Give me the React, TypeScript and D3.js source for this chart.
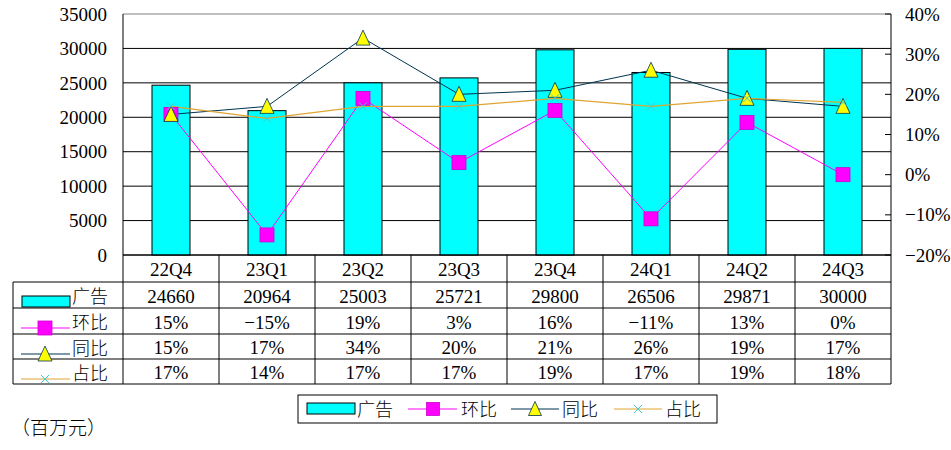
import React from "react";
import * as d3 from "d3";

const categories = ["22Q4", "23Q1", "23Q2", "23Q3", "23Q4", "24Q1", "24Q2", "24Q3"];
const adRevenue = [24660, 20964, 25003, 25721, 29800, 26506, 29871, 30000];
const qoq = [15, -15, 19, 3, 16, -11, 13, 0];
const yoy = [15, 17, 34, 20, 21, 26, 19, 17];
const share = [17, 14, 17, 17, 19, 17, 19, 18];
const leftTicks = [0, 5000, 10000, 15000, 20000, 25000, 30000, 35000];
const rightTicks = [-20, -10, 0, 10, 20, 30, 40];
const seriesNames = ["广告", "环比", "同比", "占比"];
const unitLabel = "（百万元）";

const W = 951, H = 450;
const L = 123, R = 891, T = 14, B = 255;
const FONT = "Liberation Serif, Tinos, Times New Roman, DejaVu Serif, Noto Sans CJK SC, serif";
const CJK = "Noto Sans CJK SC, sans-serif";
const NUM_FS = 19;
const CYAN = "#00FFFF";
const MAG = "#FF00FF";
const NAVY = "#003350";
const ORANGE = "#E0A430";
const XCOL = "#40CCCC";

const fmtPct = (v: number) => (v < 0 ? "−" + Math.abs(v) : String(v)) + "%";

function Square({ x, y, s = 14 }: { x: number; y: number; s?: number }) {
  return <rect x={x - s / 2} y={y - s / 2} width={s} height={s} fill={MAG} stroke="#CC00CC" strokeWidth={0.8} />;
}
function Tri({ x, y, s = 14 }: { x: number; y: number; s?: number }) {
  const h = s;
  return (
    <path
      d={`M${x},${y - h / 2 - 1} L${x + s / 2},${y + h / 2} L${x - s / 2},${y + h / 2} Z`}
      fill="#FFFF00"
      stroke={NAVY}
      strokeWidth={0.8}
    />
  );
}
function Cross({ x, y, s = 8 }: { x: number; y: number; s?: number }) {
  return (
    <g stroke={XCOL} strokeWidth={1}>
      <line x1={x - s / 2} y1={y - s / 2} x2={x + s / 2} y2={y + s / 2} />
      <line x1={x - s / 2} y1={y + s / 2} x2={x + s / 2} y2={y - s / 2} />
    </g>
  );
}

export default function App() {
  const x = d3.scaleBand<string>().domain(categories).range([L, R]).padding(0);
  const cx = (c: string) => (x(c) as number) + x.bandwidth() / 2;
  const yL = d3.scaleLinear().domain([0, 35000]).range([B, T]);
  const yR = d3.scaleLinear().domain([-20, 40]).range([B, T]);
  const barW = 38;

  const lineR = d3
    .line<number>()
    .x((_, i) => cx(categories[i]))
    .y((d) => yR(d));

  const rowLines = [282, 308, 334, 359, 384];
  const rowTexts = [
    adRevenue.map((v) => String(v)),
    qoq.map(fmtPct),
    yoy.map(fmtPct),
    share.map(fmtPct),
  ];
  const cjkText = { fontSize: 18, fontFamily: CJK, fontWeight: 300 } as const;

  return (
    <svg width={W} height={H} style={{ position: "absolute", left: 0, top: 0, background: "#fff", fontFamily: FONT }}>
      <rect x={0} y={0} width={W} height={H} fill="#fff" />
      {leftTicks.map((t) => (
        <line key={t} x1={L} x2={R} y1={yL(t)} y2={yL(t)} stroke={t === 35000 ? "#808080" : "#000"} strokeWidth={1} />
      ))}
      {adRevenue.map((v, i) => (
        <rect
          key={i}
          x={cx(categories[i]) - barW / 2}
          y={yL(v)}
          width={barW}
          height={B - yL(v)}
          fill={CYAN}
          stroke="#000"
          strokeWidth={1}
        />
      ))}
      <line x1={L} x2={L} y1={T} y2={B} stroke="#000" />
      <line x1={R} x2={R} y1={T} y2={B} stroke="#000" />
      <line x1={L} x2={R} y1={B} y2={B} stroke="#000" />
      {leftTicks.map((t) => (
        <text key={t} x={107} y={yL(t)} dy="0.35em" textAnchor="end" fontSize={NUM_FS} fill="#000">
          {t}
        </text>
      ))}
      {rightTicks.map((t) => (
        <g key={t}>
          <line x1={R - 6} x2={R} y1={yR(t)} y2={yR(t)} stroke="#000" />
          <text x={905} y={yR(t)} dy="0.35em" textAnchor="start" fontSize={NUM_FS} fill="#000">
            {fmtPct(t)}
          </text>
        </g>
      ))}
      <path d={lineR(qoq) || ""} fill="none" stroke={MAG} strokeWidth={1} />
      <path d={lineR(yoy) || ""} fill="none" stroke={NAVY} strokeWidth={1} />
      <path d={lineR(share) || ""} fill="none" stroke={ORANGE} strokeWidth={1.2} />
      {qoq.map((v, i) => (
        <Square key={"q" + i} x={cx(categories[i])} y={yR(v)} />
      ))}
      {yoy.map((v, i) => (
        <Tri key={"y" + i} x={cx(categories[i])} y={yR(v)} />
      ))}
      {share.map((v, i) => (
        <Cross key={"s" + i} x={cx(categories[i])} y={yR(v)} />
      ))}

      {categories.map((c) => (
        <g key={c}>
          <line x1={x(c) as number} x2={x(c) as number} y1={B} y2={384} stroke="#000" />
          <text x={cx(c)} y={269} dy="0.35em" textAnchor="middle" fontSize={NUM_FS} fill="#000">
            {c}
          </text>
        </g>
      ))}
      <line x1={R} x2={R} y1={B} y2={384} stroke="#000" />
      <line x1={13} x2={13} y1={282} y2={384} stroke="#000" />
      {rowLines.map((y) => (
        <line key={y} x1={13} x2={R} y1={y} y2={y} stroke="#000" />
      ))}
      {rowTexts.map((row, r) =>
        row.map((t, i) => (
          <text
            key={r + "-" + i}
            x={cx(categories[i])}
            y={(rowLines[r] + rowLines[r + 1]) / 2 + 1}
            dy="0.35em"
            textAnchor="middle"
            fontSize={NUM_FS}
            fill="#000"
          >
            {t}
          </text>
        ))
      )}
      <rect x={22} y={296} width={48} height={11} fill={CYAN} stroke="#000" strokeWidth={1} />
      <line x1={21} x2={70} y1={328} y2={328} stroke={MAG} />
      <Square x={45} y={328} />
      <line x1={21} x2={70} y1={354} y2={354} stroke={NAVY} />
      <Tri x={45} y={354} />
      <line x1={21} x2={70} y1={379} y2={379} stroke={ORANGE} />
      <Cross x={45} y={379} />
      {seriesNames.map((n, r) => (
        <text key={n} x={72} y={(rowLines[r] + rowLines[r + 1]) / 2 + 2} dy="0.35em" {...cjkText} fill="#000">
          {n}
        </text>
      ))}

      <rect x={298} y={395} width={419} height={28} fill="#fff" stroke="#000" strokeWidth={1} />
      <rect x={307} y={403} width={48} height={11} fill={CYAN} stroke="#000" />
      <text x={357} y={410} dy="0.35em" {...cjkText} fill="#000">{seriesNames[0]}</text>
      <line x1={408} x2={457} y1={409} y2={409} stroke={MAG} />
      <Square x={433} y={409} s={13} />
      <text x={461} y={410} dy="0.35em" {...cjkText} fill="#000">{seriesNames[1]}</text>
      <line x1={511} x2={559} y1={409} y2={409} stroke={NAVY} />
      <Tri x={535} y={409} s={13} />
      <text x={562} y={410} dy="0.35em" {...cjkText} fill="#000">{seriesNames[2]}</text>
      <line x1={614} x2={662} y1={409} y2={409} stroke={ORANGE} />
      <Cross x={638} y={409} />
      <text x={665} y={410} dy="0.35em" {...cjkText} fill="#000">{seriesNames[3]}</text>

      <text x={11} y={428} dy="0.35em" {...cjkText} fontSize={19} fill="#000">{unitLabel}</text>
    </svg>
  );
}
